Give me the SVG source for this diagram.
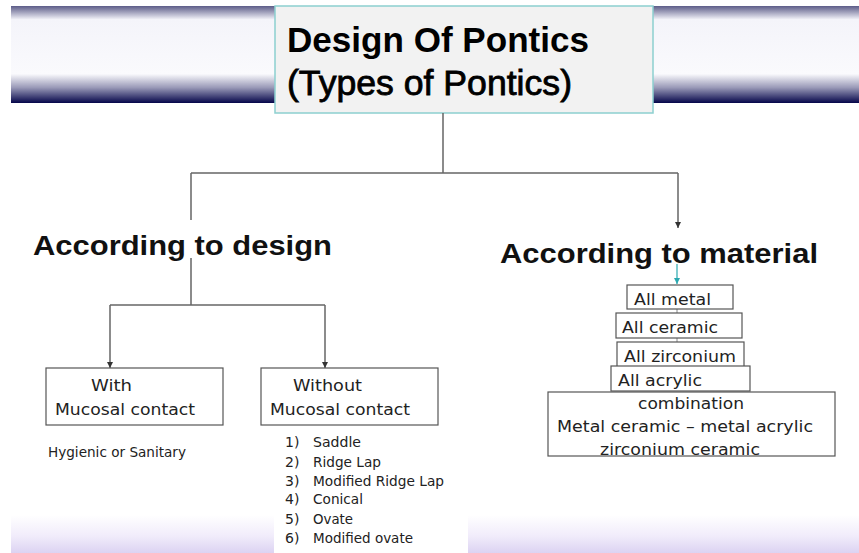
<svg xmlns="http://www.w3.org/2000/svg" width="859" height="553" viewBox="0 0 859 553">
<defs>
<linearGradient id="band" x1="0" y1="0" x2="0" y2="1">
<stop offset="0" stop-color="#5c5c88"/>
<stop offset="0.14" stop-color="#f4f4fa"/>
<stop offset="0.7" stop-color="#fafafd"/>
<stop offset="0.84" stop-color="#9a9ab8"/>
<stop offset="1" stop-color="#05064a"/>
</linearGradient>
<linearGradient id="foot" x1="0" y1="0" x2="0" y2="1">
<stop offset="0" stop-color="#ffffff"/>
<stop offset="0.55" stop-color="#f1ecfb"/>
<stop offset="1" stop-color="#dcd3f2"/>
</linearGradient>
<marker id="arr" markerWidth="8" markerHeight="8" refX="6" refY="4" orient="auto" markerUnits="userSpaceOnUse">
<path d="M0,1 L6,4 L0,7 z" fill="#333"/>
</marker>
<marker id="arrT" markerWidth="8" markerHeight="8" refX="6" refY="4" orient="auto" markerUnits="userSpaceOnUse">
<path d="M0,1 L6,4 L0,7 z" fill="#2aa8b0"/>
</marker>
</defs>
<style>
.box{fill:#fff;stroke:#555;stroke-width:1.2}
.line{fill:none;stroke:#666;stroke-width:1.5}
.title{font-family:"Liberation Sans",Arial,sans-serif;font-size:35px;fill:#000}
.head{font-family:"Liberation Sans",Arial,sans-serif;font-weight:bold;font-size:27px;fill:#111}
.t{font-family:"DejaVu Sans","Liberation Sans",sans-serif;font-size:16.5px;fill:#222}
.s{font-family:"DejaVu Sans","Liberation Sans",sans-serif;font-size:14px;fill:#222}
</style>
<rect x="0" y="0" width="859" height="553" fill="#ffffff"/>
<rect x="11" y="6" width="848" height="97" fill="url(#band)"/>
<rect x="11" y="515" width="848" height="38" fill="url(#foot)"/>

<g id="title">
<rect x="275" y="6" width="378" height="107" fill="#f2f2f2" stroke="#8ccfcf" stroke-width="1.5"/>
<text class="title" x="287" y="52" font-weight="bold" textLength="302" lengthAdjust="spacingAndGlyphs">Design Of Pontics</text>
<text class="title" x="287" y="95" font-size="37" textLength="285" lengthAdjust="spacingAndGlyphs" stroke="#000" stroke-width="0.8">(Types of Pontics)</text>
</g>

<g id="connectors">
<path class="line" d="M443,113 V173 M191,173 H678 M191,173 V220 M191,258 V305"/>
<path class="line" d="M678,173 V228" marker-end="url(#arr)"/>
<path class="line" d="M110,305 H325"/>
<path class="line" d="M110,305 V368" marker-end="url(#arr)"/>
<path class="line" d="M325,305 V368" marker-end="url(#arr)"/>
<path d="M677,264 V284" fill="none" stroke="#2aa8b0" stroke-width="1.2" marker-end="url(#arrT)"/>
<path d="M677,309 V313 M677,338 V342" fill="none" stroke="#888" stroke-width="1"/>
</g>

<g id="design">
<text class="head" x="33" y="255" textLength="299" lengthAdjust="spacingAndGlyphs">According to design</text>
</g>
<g id="material">
<text class="head" x="500" y="263" textLength="318" lengthAdjust="spacingAndGlyphs">According to material</text>
</g>

<g id="with">
<rect class="box" x="46" y="368" width="177" height="57"/>
<text class="t" x="91" y="391" textLength="41" lengthAdjust="spacingAndGlyphs">With</text>
<text class="t" x="55" y="415" textLength="140" lengthAdjust="spacingAndGlyphs">Mucosal contact</text>
</g>
<g id="hygienic">
<text class="s" x="48" y="457" font-size="13.5" textLength="138" lengthAdjust="spacingAndGlyphs">Hygienic or Sanitary</text>
</g>

<g id="without">
<rect class="box" x="261" y="368" width="177" height="57"/>
<text class="t" x="293" y="391" textLength="69" lengthAdjust="spacingAndGlyphs">Without</text>
<text class="t" x="270" y="415" textLength="140" lengthAdjust="spacingAndGlyphs">Mucosal contact</text>
</g>

<g id="list">
<rect x="274" y="430" width="194" height="123" fill="#ffffff"/>
<text class="s" x="285" y="447">1)</text><text class="s" x="313" y="447" textLength="48" lengthAdjust="spacingAndGlyphs">Saddle</text>
<text class="s" x="285" y="467">2)</text><text class="s" x="313" y="467" textLength="68" lengthAdjust="spacingAndGlyphs">Ridge Lap</text>
<text class="s" x="285" y="486">3)</text><text class="s" x="313" y="486" textLength="131" lengthAdjust="spacingAndGlyphs">Modified Ridge Lap</text>
<text class="s" x="285" y="504">4)</text><text class="s" x="313" y="504" textLength="50" lengthAdjust="spacingAndGlyphs">Conical</text>
<text class="s" x="285" y="524">5)</text><text class="s" x="313" y="524" textLength="40" lengthAdjust="spacingAndGlyphs">Ovate</text>
<text class="s" x="285" y="543">6)</text><text class="s" x="313" y="543" textLength="100" lengthAdjust="spacingAndGlyphs">Modified ovate</text>
</g>

<g id="allmetal">
<rect class="box" x="627" y="285" width="106" height="24"/>
<text class="t" x="634" y="305" textLength="77" lengthAdjust="spacingAndGlyphs">All metal</text>
</g>
<g id="allceramic">
<rect class="box" x="616" y="313" width="126" height="25"/>
<text class="t" x="622" y="333" textLength="96" lengthAdjust="spacingAndGlyphs">All ceramic</text>
</g>
<g id="allzirconium">
<rect class="box" x="617" y="342" width="127" height="25"/>
<text class="t" x="624" y="362" textLength="112" lengthAdjust="spacingAndGlyphs">All zirconium</text>
</g>
<g id="allacrylic">
<rect class="box" x="611" y="366" width="139" height="25"/>
<text class="t" x="618" y="386" textLength="84" lengthAdjust="spacingAndGlyphs">All acrylic</text>
</g>
<g id="combination">
<rect class="box" x="548" y="392" width="287" height="64"/>
<text class="t" x="638" y="409" textLength="106" lengthAdjust="spacingAndGlyphs">combination</text>
<text class="t" x="557" y="432" textLength="256" lengthAdjust="spacingAndGlyphs">Metal ceramic – metal acrylic</text>
<text class="t" x="600" y="455" textLength="160" lengthAdjust="spacingAndGlyphs">zirconium ceramic</text>
</g>
</svg>
